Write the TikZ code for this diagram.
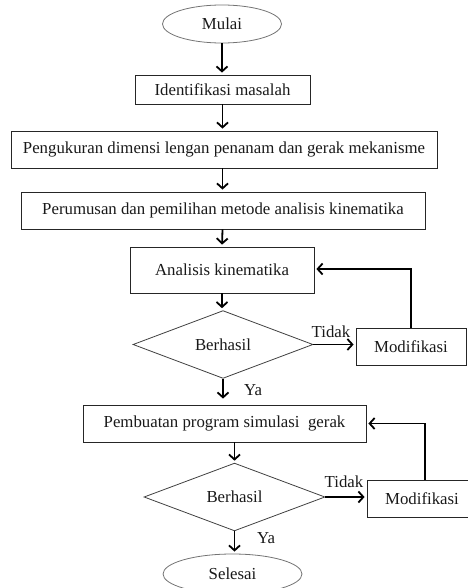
\documentclass[tikz,border=0pt]{standalone}
\usepackage{fontspec}
\setmainfont{Liberation Serif}
\usetikzlibrary{shapes.geometric,arrows.meta}
\begin{document}
\begin{tikzpicture}[x=1pt,y=-1pt,
  every node/.style={font=\fontsize{16.8}{19}\selectfont, text=black!90, inner sep=0pt},
  term/.style={draw=black!55, line width=0.8pt, ellipse},
  proc/.style={draw=black!85, line width=0.8pt, rectangle},
  dec/.style={draw=black!75, line width=0.8pt, diamond},
  flow/.style={draw=black, line width=1.8pt, -{Straight Barb[length=5pt,width=11pt,line width=1.8pt]}, shorten >=2pt},
  lbl/.style={}]
\useasboundingbox (0,0) rectangle (467,588);
\node[term, minimum width=119, minimum height=38] (start) at (222,24) {Mulai};
\node[proc, minimum width=175, minimum height=29] (b1) at (222.5,89.5) {Identifikasi masalah};
\node[proc, minimum width=426, minimum height=37] (b2) at (224,149.5) {Pengukuran dimensi lengan penanam dan gerak mekanisme};
\node[proc, minimum width=404, minimum height=37] (b3) at (223,210.5) {Perumusan dan pemilihan metode analisis kinematika};
\node[proc, minimum width=184, minimum height=46] (b4) at (222,270) {Analisis kinematika};
\node[dec, minimum width=180, minimum height=59] (d1) at (223,344.5) {Berhasil};
\node[proc, minimum width=110, minimum height=37] (m1) at (411,346.5) {Modifikasi};
\node[proc, minimum width=283, minimum height=37] (b5) at (224.5,423.5) {Pembuatan program simulasi\ \ gerak};
\node[dec, minimum width=181, minimum height=60] (d2) at (234.5,497) {Berhasil};
\node[proc, minimum width=110, minimum height=37] (m2) at (422,498.5) {Modifikasi};
\node[term, minimum width=139, minimum height=40] (end) at (232.5,574) {Selesai};
\node[lbl] (t1) at (331,332) {Tidak};
\node[lbl] (y1) at (253,390) {Ya};
\node[lbl] (t2) at (344,482) {Tidak};
\node[lbl] (y2) at (266,538) {Ya};
\draw[flow] (start.south) -- (start.south |- b1.north);
\draw[flow] (b1.south) -- (b1.south |- b2.north);
\draw[flow] (b1.south |- b2.south) -- (b1.south |- b3.north);
\draw[flow] (b1.south |- b3.south) -- (b4.north);
\draw[flow] (b4.south) -- (b4.south |- d1.north);
\draw[flow] (d1.east) -- (d1.east -| m1.west);
\draw[flow] (m1.north) |- ([yshift=1pt]b4.east);
\draw[flow, shorten >=6pt] (d1.south) -- (d1.south |- b5.north);
\draw[flow] (d2.north |- b5.south) -- (d2.north);
\draw[flow] (d2.east) -- (d2.east -| m2.west);
\draw[flow] ([xshift=3pt]m2.north) |- (b5.east);
\draw[flow] (d2.south) -- (d2.south |- end.north);
\end{tikzpicture}
\end{document}
